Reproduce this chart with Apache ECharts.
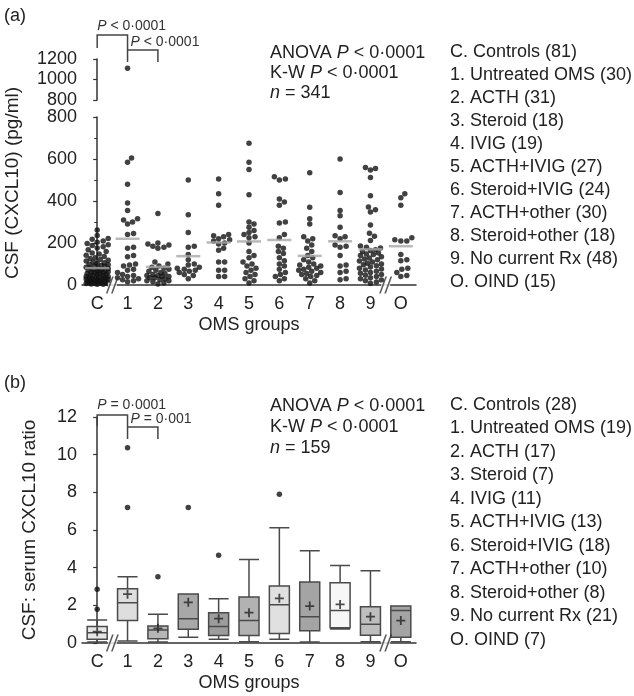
<!DOCTYPE html>
<html><head><meta charset="utf-8">
<script src="https://cdn.jsdelivr.net/npm/echarts@6/dist/echarts.min.js"></script>
<style>html,body{margin:0;padding:0;background:#fff}#c{width:634px;height:696px}</style>
</head><body><div id="c"></div>
<script>
// ---------------- DATA ----------------
const categories = ['C','1','2','3','4','5','6','7','8','9','O'];
const groupNamesA = ['C. Controls (81)','1. Untreated OMS (30)','2. ACTH (31)','3. Steroid (18)','4. IVIG (19)','5. ACTH+IVIG (27)','6. Steroid+IVIG (24)','7. ACTH+other (30)','8. Steroid+other (18)','9. No current Rx (48)','O. OIND (15)'];
const groupNamesB = ['C. Controls (28)','1. Untreated OMS (19)','2. ACTH (17)','3. Steroid (7)','4. IVIG (11)','5. ACTH+IVIG (13)','6. Steroid+IVIG (18)','7. ACTH+other (10)','8. Steroid+other (8)','9. No current Rx (21)','O. OIND (7)'];
const statsA = ['ANOVA {i|P} < 0·0001','K-W {i|P} < 0·0001','{i|n} = 341'];
const statsB = ['ANOVA {i|P} < 0·0001','K-W {i|P} < 0·0001','{i|n} = 159'];
const pLabelsA = ['{i|P} < 0·0001','{i|P} < 0·0001'];
const pLabelsB = ['{i|P} = 0·0001','{i|P} = 0·001'];

// Panel (a): CSF CXCL10 (pg/ml), one value per patient
const csfControls = [262,236,222,218,210,204,198,192,188,182,176,168,160,152,148,142,136,130,126,122,118,114,110,106,102,99,96,93,90,88,85,82,80,78,75,73,71,69,67,65,63,61,59,57,55,53,51,49,47,45,43,41,40,38,36,35,33,31,30,28,27,25,24,22,21,20,18,17,16,15,14,12,11,10,9,8,7,6,5,4,3];
const csfUntreated = [1110,605,585,480,390,355,315,310,300,290,245,240,180,175,140,135,100,95,90,75,70,60,50,45,40,35,30,25,20,15];
const csfACTH = [340,200,195,190,185,180,175,110,100,90,85,80,75,70,65,60,55,50,45,45,40,40,35,35,30,25,20,20,15,10,5];
const csfSteroid = [500,335,250,185,180,145,120,100,95,85,80,75,70,65,60,50,45,30];
const csfIVIG = [505,435,380,240,235,230,220,215,210,200,195,175,165,110,110,70,70,40,40];
const csfACTHIVIG = [675,585,550,430,300,290,275,260,250,240,230,225,200,160,140,130,110,100,90,80,70,60,50,40,30,20,10];
const csfSteroidIVIG = [515,505,500,410,395,380,300,295,240,225,185,175,160,150,130,115,100,90,75,60,50,40,30,20];
const csfACTHOther = [535,370,315,290,230,220,210,190,175,160,140,130,120,110,100,95,90,85,80,75,70,65,60,55,50,45,40,30,20,10];
const csfSteroidOther = [600,440,355,330,275,235,230,220,190,185,180,140,95,90,65,60,30,25];
const csfNoRx = [560,555,548,512,425,372,358,348,286,246,232,212,186,180,176,168,164,160,152,148,145,140,134,128,124,120,114,110,104,100,96,92,86,80,76,72,66,60,56,50,46,40,34,30,24,20,14,8];
const csfOIND = [435,415,380,225,215,210,210,145,120,115,80,75,60,45,40];

// Panel (b): CSF:serum CXCL10 ratio box plots
const boxLow    = [0.05,0.10,0.05,0.30,0.20,0.07,0.20,0.05,0.75,0.06,0.07];
const boxQ1     = [0.20,1.19,0.23,0.73,0.40,0.40,0.51,0.65,0.81,0.41,0.30];
const boxMedian = [0.55,2.14,0.69,1.29,0.87,1.19,2.03,1.40,1.72,1.00,1.72];
const boxQ3     = [0.87,2.88,0.90,2.60,1.61,2.44,3.03,3.24,3.20,1.93,1.96];
const boxHigh   = [1.22,3.52,1.52,2.60,2.35,4.44,6.12,4.90,4.12,3.84,1.96];
const boxMean   = [0.60,2.59,0.78,2.16,1.29,1.61,2.37,1.96,2.05,1.40,1.19];
const outlierGroup = [0,0,1,1,2,3,4,6];
const outlierValue = [2.85,1.79,10.37,7.2,3.52,7.2,4.66,7.9];

// ---------------- STYLE ----------------
const F = "'Liberation Sans', Arial, sans-serif";
const boxFill = ['#e6e6e6','#dedede','#b6b6b6','#a8a8a8','#9c9c9c','#b2b2b2','#e0e0e0','#a4a4a4','#f6f6f6','#bebebe','#a4a4a4'];
const AX = '#333';
const csfGroups = [csfControls,csfUntreated,csfACTH,csfSteroid,csfIVIG,csfACTHIVIG,csfSteroidIVIG,csfACTHOther,csfSteroidOther,csfNoRx,csfOIND];

const chart = echarts.init(document.getElementById('c'), null, {renderer:'canvas'});

function catAxis(grid, withName) {
  return {type:'category', gridIndex:grid, data:categories, boundaryGap:true,
    axisLine:{lineStyle:{color:AX,width:1.5}},
    axisTick:{inside:true, alignWithLabel:true, length:5, lineStyle:{color:AX,width:1.2}},
    axisLabel:{fontSize:18, fontFamily:F, color:'#222', margin:10},
    name: withName ? 'OMS groups' : '', nameLocation:'middle', nameGap:31,
    nameTextStyle:{fontSize:18, fontFamily:F, color:'#222'}, splitLine:{show:false}};
}
function hidX(grid){ return {type:'value', gridIndex:grid, min:-0.5, max:10.5, show:false}; }
function valY(grid, min, max, interval, minor) {
  return {type:'value', gridIndex:grid, min, max, interval,
    axisLine:{show:true, lineStyle:{color:AX,width:1.5}},
    axisTick:{show:true, length:4, lineStyle:{color:AX,width:1.2}},
    minorTick:{show:!!minor, splitNumber:2, length:3, lineStyle:{color:AX,width:1}},
    axisLabel:{fontSize:18, fontFamily:F, color:'#222', margin:5, formatter: v => String(v)},
    splitLine:{show:false}};
}

const plusPath = 'path://M4,0 H6 V4 H10 V6 H6 V10 H4 V6 H0 V4 H4 Z';
const slashPath = 'path://M0,16 L6,0 L7.6,0 L1.6,16 Z M5,16 L11,0 L12.6,0 L6.6,16 Z';

function buildOption(dotsUpper, dotsLower, meanA, graphics) {
  return {
    animation:false,
    backgroundColor:'#fff',
    grid:[
      {left:82, top:59, width:334, height:41},
      {left:82, top:117, width:334, height:168},
      {left:82, top:417, width:334, height:226}
    ],
    xAxis:[hidX(0), catAxis(1,true), hidX(1), catAxis(2,true), hidX(2)],
    yAxis:[valY(0,800,1200,200,false), valY(1,0,800,200,true), valY(2,0,12,2,false)],
    series:[
      {type:'scatter', xAxisIndex:0, yAxisIndex:0, data:dotsUpper, symbolSize:5.5, itemStyle:{color:'#111'}, silent:true, z:3},
      {type:'scatter', xAxisIndex:2, yAxisIndex:1, data:dotsLower, symbolSize:5.5, itemStyle:{color:'#111'}, silent:true, z:3},
      {type:'scatter', xAxisIndex:1, yAxisIndex:1, data:meanA, symbol:'rect', symbolSize:[24,2.5], itemStyle:{color:'#a8a8a8'}, silent:true, z:4},
      {type:'scatter', xAxisIndex:2, yAxisIndex:1, data:[[0.5,0],[9.5,0]], symbol:'rect', symbolSize:[9,5], itemStyle:{color:'#fff'}, clip:false, silent:true, z:5},
      {type:'scatter', xAxisIndex:2, yAxisIndex:1, data:[[0.5,0],[9.5,0]], symbol:slashPath, symbolSize:[13,17], itemStyle:{color:AX}, clip:false, silent:true, z:6},
      {type:'boxplot', xAxisIndex:3, yAxisIndex:2, boxWidth:[20,20], silent:true, z:2,
        itemStyle:{borderColor:'#4a4a4a', borderWidth:1.5},
        data: categories.map((c,i)=>({value:[boxLow[i],boxQ1[i],boxMedian[i],boxQ3[i],boxHigh[i]], itemStyle:{color:boxFill[i]}}))},
      {type:'scatter', xAxisIndex:3, yAxisIndex:2, data: outlierGroup.map((g,i)=>[g,outlierValue[i]]), symbolSize:5.5, itemStyle:{color:'#111'}, silent:true, z:3},
      {type:'scatter', xAxisIndex:3, yAxisIndex:2, data: boxMean.map((m,i)=>[i,m]), symbol:plusPath, symbolSize:9, itemStyle:{color:'#222'}, silent:true, z:4},
      {type:'scatter', xAxisIndex:4, yAxisIndex:2, data:[[0.5,0],[9.5,0]], symbol:'rect', symbolSize:[9,5], itemStyle:{color:'#fff'}, clip:false, silent:true, z:5},
      {type:'scatter', xAxisIndex:4, yAxisIndex:2, data:[[0.5,0],[9.5,0]], symbol:slashPath, symbolSize:[13,17], itemStyle:{color:AX}, clip:false, silent:true, z:6}
    ],
    graphic: graphics
  };
}

chart.setOption(buildOption([],[],[],[]));

// scales
const xPx = chart.convertToPixel({xAxisIndex:2},1) - chart.convertToPixel({xAxisIndex:2},0);
const yPxL = (chart.convertToPixel({yAxisIndex:1},0) - chart.convertToPixel({yAxisIndex:1},800))/800;
const yPxU = (chart.convertToPixel({yAxisIndex:0},800) - chart.convertToPixel({yAxisIndex:0},1200))/400;

function swarm(values, yScale, diam, cap) {
  const idx = values.map((v,i)=>i).sort((a,b)=>values[a]-values[b]);
  const placed = []; const off = new Array(values.length).fill(0);
  for (const i of idx) {
    const y = values[i]*yScale;
    let best = 0, bestD = -1;
    for (let k=0;k<=2*cap;k++){
      const o = (k%2===1?1:-1)*Math.ceil(k/2);
      let minD = Infinity;
      for (const p of placed){ const d=Math.hypot(p.x-o,p.y-y); if(d<minD)minD=d; }
      if (minD>=diam){ best=o; bestD=Infinity; break; }
      if (minD>bestD){ bestD=minD; best=o; }
    }
    placed.push({x:best,y}); off[i]=best/xPx;
  }
  return off;
}

const dotsUpper = [], dotsLower = [], meanA = [];
csfGroups.forEach((vals,g)=>{
  const low = vals.filter(v=>v<=800), high = vals.filter(v=>v>800);
  const oL = swarm(low, yPxL, 5.2, 11);
  low.forEach((v,i)=>dotsLower.push([g+oL[i], v]));
  const oH = swarm(high, yPxU, 5.2, 11);
  high.forEach((v,i)=>dotsUpper.push([g+oH[i], v]));
  meanA.push([g, vals.reduce((s,v)=>s+v,0)/vals.length]);
});

// graphics
function txt(x, y, text, size, o) {
  o = o || {};
  const fill = o.fill || '#222';
  return {type:'text', x, y, rotation:o.rot||0, silent:true, z:10,
    style:{text, fill, fontSize:size, fontFamily:F,
      textAlign:o.align||'left', textVerticalAlign:'middle', align:o.align||'left', verticalAlign:'middle',
      rich:{i:{fontStyle:'italic', fontSize:size, fontFamily:F, fill}}}};
}
function line(points){ return {type:'polyline', silent:true, z:10, shape:{points}, style:{stroke:'#444', lineWidth:1.5, fill:null}}; }
const cx = i => chart.convertToPixel({xAxisIndex:2}, i);

const G = [];
G.push(txt(4,16,'(a)',18));
G.push(txt(4,383,'(b)',18));
G.push(txt(13,183,'CSF (CXCL10) (pg/ml)',19,{rot:Math.PI/2, align:'center'}));
G.push(txt(30,530,'CSF: serum CXCL10 ratio',19,{rot:Math.PI/2, align:'center'}));
statsA.forEach((s,i)=>G.push(txt(270,53+20*i,s,18)));
statsB.forEach((s,i)=>G.push(txt(270,406+21*i,s,18)));
groupNamesA.forEach((s,i)=>G.push(txt(450,52+23*i,s,18)));
groupNamesB.forEach((s,i)=>G.push(txt(450,405+23.5*i,s,18)));
// significance brackets (a)
G.push(line([[cx(0),48],[cx(0),35],[cx(1),35],[cx(1),62]]));
G.push(line([[cx(1),50],[cx(2),50],[cx(2),62]]));
G.push(txt(cx(0),26,pLabelsA[0],14,{fill:'#333'}));
G.push(txt(cx(1)+3,42,pLabelsA[1],14,{fill:'#333'}));
// significance brackets (b)
G.push(line([[cx(0),426],[cx(0),415],[cx(1),415],[cx(1),439]]));
G.push(line([[cx(1),427],[cx(2),427],[cx(2),439]]));
G.push(txt(cx(0),405,pLabelsB[0],14,{fill:'#333'}));
G.push(txt(cx(1)+3,419,pLabelsB[1],14,{fill:'#333'}));

chart.setOption(buildOption(dotsUpper, dotsLower, meanA, G), true);
</script></body></html>
